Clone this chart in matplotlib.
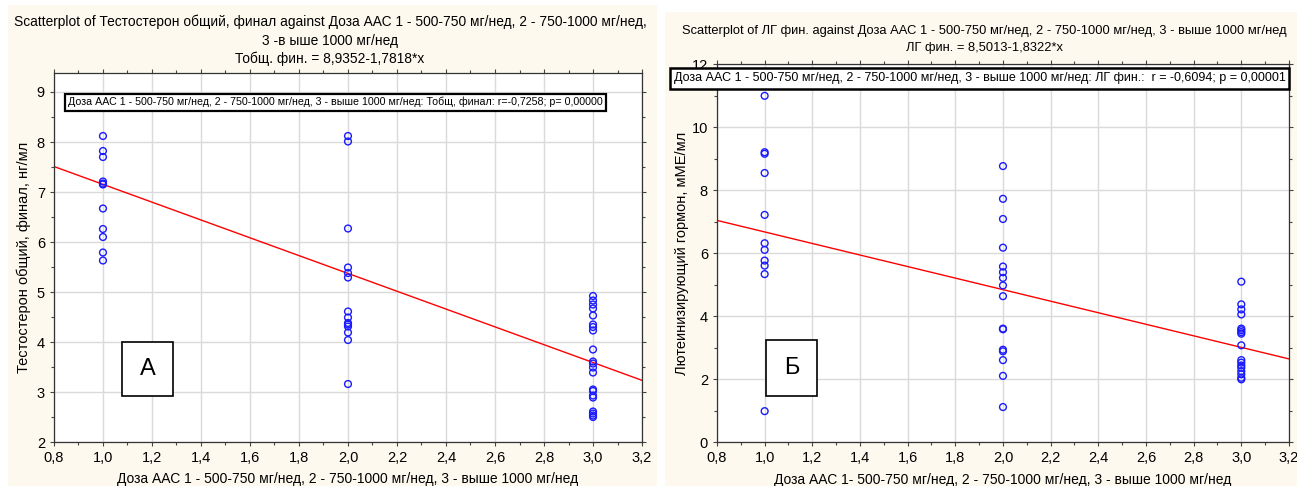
import matplotlib
matplotlib.use("Agg")
import matplotlib.pyplot as plt
from matplotlib.patches import Rectangle
from matplotlib.ticker import FixedLocator, FuncFormatter, MultipleLocator

plt.rcParams['font.family'] = ['Liberation Sans', 'DejaVu Sans']

# dose group values
t_dose1 = [8.12, 7.82, 7.70, 7.21, 7.17, 7.15, 6.67, 6.26, 6.10, 5.79, 5.63]
t_dose2 = [8.12, 8.01, 6.27, 5.49, 5.38, 5.29, 4.61, 4.49, 4.38, 4.35, 4.31,
           4.19, 4.04, 3.16]
t_dose3 = [4.92, 4.83, 4.75, 4.67, 4.53, 4.35, 4.30, 4.23, 3.85, 3.61, 3.57,
           3.49, 3.39, 3.05, 3.02, 2.93, 2.89, 2.61, 2.57, 2.53, 2.50]

lh_dose1 = [10.99, 9.20, 9.15, 8.54, 7.21, 6.31, 6.10, 5.76, 5.60, 5.33, 0.98]
lh_dose2 = [8.76, 7.72, 7.08, 6.17, 5.57, 5.39, 5.21, 4.97, 4.63, 3.60, 3.58,
            2.93, 2.88, 2.60, 2.10, 1.11]
lh_dose3 = [5.09, 4.37, 4.21, 4.05, 3.60, 3.55, 3.49, 3.44, 3.07, 2.60, 2.52,
            2.43, 2.36, 2.25, 2.15, 2.04, 1.99]

t_fit = (8.9352, -1.7818)
lh_fit = (8.5013, -1.8322)

x_ticks = [0.8, 1.0, 1.2, 1.4, 1.6, 1.8, 2.0, 2.2, 2.4, 2.6, 2.8, 3.0, 3.2]
t_yticks = [2, 3, 4, 5, 6, 7, 8, 9]
lh_yticks = [0, 2, 4, 6, 8, 10, 12]

cream = '#fdf9ef'
blue = '#1a1aff'

fig = plt.figure(figsize=(12.97, 4.86), dpi=100)
fig.patches.append(Rectangle((0.006, 0.0), 0.5006, 0.99, transform=fig.transFigure,
                             facecolor=cream, edgecolor='none', zorder=-10))
fig.patches.append(Rectangle((0.5127, 0.0), 0.4873, 0.975, transform=fig.transFigure,
                             facecolor=cream, edgecolor='none', zorder=-10))


def comma(v, pos):
    return ('%.1f' % v).replace('.', ',')


def setup(ax, yticks, ylim, yminor):
    ax.set_xlim(0.8, 3.2)
    ax.set_ylim(*ylim)
    ax.xaxis.set_major_locator(FixedLocator(x_ticks))
    ax.xaxis.set_major_formatter(FuncFormatter(comma))
    ax.xaxis.set_minor_locator(MultipleLocator(0.1))
    ax.yaxis.set_major_locator(FixedLocator(yticks))
    ax.yaxis.set_major_formatter(FuncFormatter(lambda v, p: '%d' % v))
    ax.yaxis.set_minor_locator(MultipleLocator(yminor))
    ax.grid(True, which='major', color='#dadada', lw=1)
    ax.set_axisbelow(True)
    ax.tick_params(which='both', top=True, right=True, labelsize=10.5,
                   direction='out', length=3, width=0.8, color='#444444')
    ax.tick_params(which='minor', length=2)
    for s in ax.spines.values():
        s.set_linewidth(0.9)
        s.set_color('#333333')


def scatter_groups(ax, groups):
    for dose, vals in zip([1.0, 2.0, 3.0], groups):
        ax.scatter([dose] * len(vals), vals, s=24, facecolors='none',
                   edgecolors=blue, linewidths=1.0, zorder=3)


# left panel
ax1 = fig.add_axes([0.0416, 0.0905, 0.4534, 0.7593])
setup(ax1, t_yticks, (2, 9.38), 0.5)
scatter_groups(ax1, [t_dose1, t_dose2, t_dose3])
ax1.plot([0.8, 3.2], [t_fit[0] + t_fit[1] * 0.8, t_fit[0] + t_fit[1] * 3.2],
         color='red', lw=1, zorder=2)
ax1.set_ylabel('Тестостерон общий, финал, нг/мл', fontsize=10.5, labelpad=4)
ax1.set_xlabel('Доза ААС 1 - 500-750 мг/нед, 2 - 750-1000 мг/нед, 3 - выше 1000 мг/нед',
               fontsize=10, labelpad=5)
ax1.text(0.024, 0.921, 'Доза ААС 1 - 500-750 мг/нед, 2 - 750-1000 мг/нед, 3 - выше 1000 мг/нед: '
         'Тобщ, финал: r=-0,7258; p= 0,00000', transform=ax1.transAxes,
         fontsize=7.7, va='center', ha='left', zorder=5,
         bbox=dict(boxstyle='square,pad=0.3', fc='white', ec='black', lw=1.6))
ax1.add_patch(Rectangle((0.116, 0.125), 0.086, 0.145, transform=ax1.transAxes,
                        fc='white', ec='black', lw=1.2, zorder=4))
ax1.text(0.159, 0.197, 'А', transform=ax1.transAxes, fontsize=17,
         ha='center', va='center', zorder=5)
fig.text(0.2545, 0.955, 'Scatterplot of Тестостерон общий, финал against Доза ААС 1 - '
         '500-750 мг/нед, 2 - 750-1000 мг/нед,', fontsize=9.9, ha='center', va='center')
fig.text(0.2545, 0.916, '3 -в ыше 1000 мг/нед', fontsize=9.9, ha='center', va='center')
fig.text(0.2545, 0.879, 'Тобщ. фин. = 8,9352-1,7818*x', fontsize=9.9, ha='center', va='center')

# right panel
ax2 = fig.add_axes([0.5528, 0.0905, 0.4410, 0.7778])
setup(ax2, lh_yticks, (0, 12), 1)
scatter_groups(ax2, [lh_dose1, lh_dose2, lh_dose3])
ax2.plot([0.8, 3.2], [lh_fit[0] + lh_fit[1] * 0.8, lh_fit[0] + lh_fit[1] * 3.2],
         color='red', lw=1, zorder=2)
ax2.set_ylabel('Лютеинизирующий гормон, мМЕ/мл', fontsize=10.5, labelpad=2)
ax2.set_xlabel('Доза ААС 1- 500-750 мг/нед, 2 - 750-1000 мг/нед, 3 - выше 1000 мг/нед',
               fontsize=10, labelpad=5.5)
fig.patches.append(Rectangle((0.5166, 0.817), 0.4773, 0.043, transform=fig.transFigure,
                             fc='white', ec='black', lw=1.8, zorder=4))
fig.text(0.5195, 0.8385, 'Доза ААС 1 - 500-750 мг/нед, 2 - 750-1000 мг/нед, 3 - выше 1000 мг/нед: '
         'ЛГ фин.:  r = -0,6094; p = 0,00001', fontsize=9, va='center', ha='left', zorder=5)
ax2.add_patch(Rectangle((0.086, 0.122), 0.089, 0.148, transform=ax2.transAxes,
                        fc='white', ec='black', lw=1.2, zorder=4))
ax2.text(0.13, 0.196, 'Б', transform=ax2.transAxes, fontsize=17,
         ha='center', va='center', zorder=5)
fig.text(0.759, 0.936, 'Scatterplot of ЛГ фин. against Доза ААС 1 - 500-750 мг/нед, '
         '2 - 750-1000 мг/нед, 3 - выше 1000 мг/нед', fontsize=9.3, ha='center', va='center')
fig.text(0.759, 0.901, 'ЛГ фин. = 8,5013-1,8322*x', fontsize=9.3, ha='center', va='center')

fig.savefig('out.png', dpi=100)
